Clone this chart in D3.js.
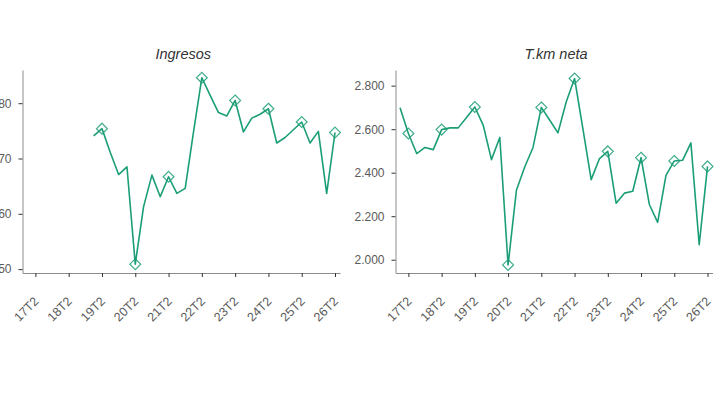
<!DOCTYPE html>
<html>
<head>
<meta charset="utf-8">
<script src="https://cdn.jsdelivr.net/npm/d3@7"></script>
<style>
  body { margin: 0; background: #fff; }
  svg { display: block; }
  .tick text { font-family: "Liberation Sans", Arial, sans-serif; font-size: 12px; fill: #5a5a5a; }
  .xaxis .tick text { font-size: 12.5px; }
  .tick line { stroke: #333; }
  .domain { stroke: #8c8c8c; }
  .title { font-family: "Liberation Sans", Arial, sans-serif; font-size: 14.5px; font-style: italic; fill: #333; }
</style>
</head>
<body>
<div id="chart"></div>
<script>
// quarters from 17T1 to 26T2
var quarters = ["17T1","17T2","17T3","17T4","18T1","18T2","18T3","18T4",
  "19T1","19T2","19T3","19T4","20T1","20T2","20T3","20T4",
  "21T1","21T2","21T3","21T4","22T1","22T2","22T3","22T4",
  "23T1","23T2","23T3","23T4","24T1","24T2","24T3","24T4",
  "25T1","25T2","25T3","25T4","26T1","26T2"];

var ingresos = [null, null, null, null, null, null, null, null,
  74.1, 75.4, 71.1, 67.1, 68.5, 50.9, 61.3, 67.0,
  63.1, 66.7, 63.7, 64.6, 74.8, 84.6, 81.4, 78.3,
  77.7, 80.5, 74.8, 77.3, 78.0, 79.0, 72.8, 73.8,
  75.2, 76.6, 72.8, 74.9, 63.7, 74.7];

var tkmNeta = [2698, 2580, 2488, 2516, 2506, 2598, 2606, 2606,
  2654, 2702, 2619, 2460, 2562, 1976, 2319, 2426,
  2516, 2700, 2642, 2583, 2726, 2833, 2603, 2368,
  2465, 2498, 2260, 2306, 2315, 2469, 2254, 2172,
  2388, 2454, 2457, 2537, 2069, 2429];

var ingresosTicks = [50, 60, 70, 80];
var tkmTicks = [2000, 2200, 2400, 2600, 2800];

var width = 720;
var height = 405;
var color = "#1b9e77";

var es = d3.formatLocale({ decimal: ",", thousands: ".", grouping: [3], currency: ["", "€"] });

var svg = d3.select("#chart").append("svg")
  .attr("width", width)
  .attr("height", height);

function panel(opts) {
  var x = d3.scaleLinear().domain([-0.55, 37.6]).range([opts.left, opts.right]);
  var y = d3.scaleLinear().domain(opts.yDomain).range([273, 70]);

  var g = svg.append("g");

  // x axis, labels on the T2 quarters
  var xTicks = d3.range(1, quarters.length, 4);
  g.append("g")
    .attr("class", "xaxis")
    .attr("transform", "translate(0,273)")
    .call(d3.axisBottom(x).tickValues(xTicks).tickFormat(function (i) { return quarters[i]; })
      .tickSize(4).tickSizeOuter(0))
    .selectAll("text")
    .attr("x", 0).attr("y", 0).attr("dy", 0)
    .attr("text-anchor", "end")
    .attr("transform", "translate(3.5,29) rotate(-45)");

  g.append("g")
    .attr("transform", "translate(" + opts.left + ",0)")
    .call(d3.axisLeft(y).tickValues(opts.ticks).tickFormat(opts.format)
      .tickSize(4).tickPadding(7).tickSizeOuter(0));

  g.append("text")
    .attr("class", "title")
    .attr("x", (opts.left + opts.right) / 2 + 2)
    .attr("y", 59)
    .attr("text-anchor", "middle")
    .text(opts.title);

  var line = d3.line()
    .defined(function (d) { return d != null; })
    .x(function (d, i) { return x(i); })
    .y(function (d) { return y(d); });

  g.append("path")
    .datum(opts.values)
    .attr("fill", "none")
    .attr("stroke", color)
    .attr("stroke-width", 1.6)
    .attr("stroke-linejoin", "round")
    .attr("d", line);

  // diamonds on the T2 quarters
  var marks = xTicks.filter(function (i) { return opts.values[i] != null; });
  g.selectAll("path.mark")
    .data(marks)
    .join("path")
    .attr("class", "mark")
    .attr("d", d3.symbol().type(d3.symbolDiamond2).size(75))
    .attr("transform", function (i) { return "translate(" + x(i) + "," + y(opts.values[i]) + ")"; })
    .attr("fill", "none")
    .attr("stroke", color)
    .attr("stroke-opacity", 0.85)
    .attr("stroke-width", 1.2);
}

panel({
  title: "Ingresos",
  values: ingresos,
  left: 22.5,
  right: 340,
  yDomain: [49.3, 86.0],
  ticks: ingresosTicks,
  format: es.format("d")
});

panel({
  title: "T.km neta",
  values: tkmNeta,
  left: 395.5,
  right: 712.5,
  yDomain: [1939, 2872],
  ticks: tkmTicks,
  format: es.format(",.0f")
});
</script>
</body>
</html>
